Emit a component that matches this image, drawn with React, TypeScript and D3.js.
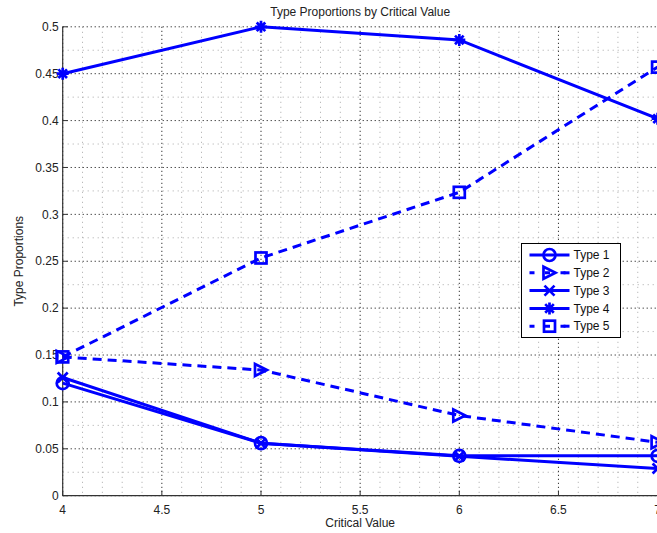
import React from "react";
import * as d3 from "d3";

const xValues = [4, 5, 6, 7];
const type1 = [0.12, 0.056, 0.0425, 0.0425];
const type2 = [0.148, 0.134, 0.0855, 0.057];
const type3 = [0.126, 0.056, 0.042, 0.029];
const type4 = [0.45, 0.5, 0.486, 0.402];
const type5 = [0.148, 0.2535, 0.3235, 0.457];
const seriesNames = ["Type 1", "Type 2", "Type 3", "Type 4", "Type 5"];
const xTicks = [4, 4.5, 5, 5.5, 6, 6.5, 7];
const yTicks = [0, 0.05, 0.1, 0.15, 0.2, 0.25, 0.3, 0.35, 0.4, 0.45, 0.5];

const W = 657, H = 533;
const L = 62.7, R = 657.6, T = 26.8, B = 495.7;
const BLUE = "#0000ff";
const FONT = "'Liberation Sans', Arial, Helvetica, sans-serif";

type Marker = "circle" | "triangle" | "x" | "star" | "square";
const series: { name: string; values: number[]; dashed: boolean; marker: Marker }[] = [
  { name: seriesNames[0], values: type1, dashed: false, marker: "circle" },
  { name: seriesNames[1], values: type2, dashed: true, marker: "triangle" },
  { name: seriesNames[2], values: type3, dashed: false, marker: "x" },
  { name: seriesNames[3], values: type4, dashed: false, marker: "star" },
  { name: seriesNames[4], values: type5, dashed: true, marker: "square" },
];

function MarkerShape({ kind, cx, cy }: { kind: Marker; cx: number; cy: number }) {
  const sw = 2.7;
  const common = { stroke: BLUE, strokeWidth: sw, fill: "none" };
  const s = 6;
  switch (kind) {
    case "circle":
      return <circle cx={cx} cy={cy} r={s} {...common} />;
    case "triangle":
      return (
        <path
          d={`M${cx - s},${cy - s}L${cx + s},${cy}L${cx - s},${cy + s}Z`}
          {...common}
          strokeLinejoin="miter"
        />
      );
    case "x":
      return (
        <path d={`M${cx - 5},${cy - 5}L${cx + 5},${cy + 5}M${cx - 5},${cy + 5}L${cx + 5},${cy - 5}`} {...common} />
      );
    case "star": {
      const a = 6, d = 4.3;
      return (
        <path
          d={`M${cx - a},${cy}L${cx + a},${cy}M${cx},${cy - a}L${cx},${cy + a}M${cx - d},${cy - d}L${cx + d},${cy + d}M${cx - d},${cy + d}L${cx + d},${cy - d}`}
          {...common}
        />
      );
    }
    case "square":
      return <rect x={cx - 5.5} y={cy - 5.5} width={11} height={11} {...common} />;
  }
}

export default function App() {
  const x = d3.scaleLinear().domain([4, 7]).range([L, R]);
  const y = d3.scaleLinear().domain([0, 0.5]).range([B, T]);
  const line = d3
    .line<[number, number]>()
    .x((d) => x(d[0]))
    .y((d) => y(d[1]));

  const xMinor = d3.range(4, 7.0001, 0.1).filter((v) => Math.abs(v * 2 - Math.round(v * 2)) > 1e-6);
  const yMinor = d3.range(0, 0.5001, 0.025).filter((v) => Math.abs(v * 20 - Math.round(v * 20)) > 1e-6);

  const legX = 521.5, legY = 243.5, legW = 99, legH = 94;
  const rowH = 17.8;

  return (
    <svg
      width={W}
      height={H}
      style={{ position: "absolute", left: 0, top: 0, background: "#fff" }}
      fontFamily={FONT}
    >
      <rect x={0} y={0} width={W} height={H} fill="#fff" />
      {/* minor grid */}
      {xMinor.map((v, i) => (
        <line key={"xm" + i} x1={x(v)} x2={x(v)} y1={T} y2={B} stroke="#a8a8a8" strokeWidth={1} strokeDasharray="1,4" />
      ))}
      {yMinor.map((v, i) => (
        <line key={"ym" + i} x1={L} x2={R} y1={y(v)} y2={y(v)} stroke="#a8a8a8" strokeWidth={1} strokeDasharray="1,4" />
      ))}
      {/* major grid */}
      {xTicks.map((v, i) => (
        <line key={"xg" + i} x1={x(v)} x2={x(v)} y1={T} y2={B} stroke="#000" strokeWidth={1} strokeDasharray="1,3" />
      ))}
      {yTicks.map((v, i) => (
        <line key={"yg" + i} x1={L} x2={R} y1={y(v)} y2={y(v)} stroke="#000" strokeWidth={1} strokeDasharray="1,3" />
      ))}
      {/* axes */}
      <line x1={L} x2={L} y1={T} y2={B} stroke="#333" strokeWidth={1.2} />
      <line x1={L} x2={R} y1={B} y2={B} stroke="#333" strokeWidth={1.2} />
      {yTicks.map((v, i) => (
        <g key={"yt" + i}>
          <line x1={L} x2={L + 5} y1={y(v)} y2={y(v)} stroke="#333" strokeWidth={1} />
          <text x={L - 4} y={y(v)} dy="0.35em" textAnchor="end" fontSize={12} fill="#222">
            {String(v)}
          </text>
        </g>
      ))}
      {xTicks.map((v, i) => (
        <g key={"xt" + i}>
          <line x1={x(v)} x2={x(v)} y1={B} y2={B - 5} stroke="#333" strokeWidth={1} />
          <text x={x(v)} y={B + 18} textAnchor="middle" fontSize={12} fill="#222">
            {String(v)}
          </text>
        </g>
      ))}
      {/* series */}
      {series.map((s) => {
        const pts = xValues.map((xv, i) => [xv, s.values[i]] as [number, number]);
        return (
          <g key={s.name}>
            <path
              d={line(pts) || ""}
              fill="none"
              stroke={BLUE}
              strokeWidth={3}
              strokeDasharray={s.dashed ? "9,6" : undefined}
            />
            {pts.map((p, i) => (
              <MarkerShape key={i} kind={s.marker} cx={x(p[0])} cy={y(p[1])} />
            ))}
          </g>
        );
      })}
      {/* title and labels */}
      <text x={(L + R) / 2} y={16} textAnchor="middle" fontSize={12} fill="#222">
        Type Proportions by Critical Value
      </text>
      <text x={(L + R) / 2} y={527} textAnchor="middle" fontSize={12} fill="#222">
        Critical Value
      </text>
      <text
        transform={`translate(23,${(T + B) / 2}) rotate(-90)`}
        textAnchor="middle"
        fontSize={12}
        fill="#222"
      >
        Type Proportions
      </text>
      {/* legend */}
      <rect x={legX} y={legY} width={legW} height={legH} fill="#fff" stroke="#000" strokeWidth={1} />
      {series.map((s, i) => {
        const cy = legY + 11.5 + i * rowH;
        return (
          <g key={"lg" + i}>
            <line
              x1={legX + 8}
              x2={legX + 48}
              y1={cy}
              y2={cy}
              stroke={BLUE}
              strokeWidth={3}
              strokeDasharray={s.dashed ? "5,10.5" : undefined}
            />
            {s.dashed ? (
              <line x1={legX + 42} x2={legX + 48} y1={cy} y2={cy} stroke={BLUE} strokeWidth={3} />
            ) : null}
            <MarkerShape kind={s.marker} cx={legX + 28} cy={cy} />
            <text x={legX + 52} y={cy} dy="0.35em" fontSize={12} fill="#111">
              {s.name}
            </text>
          </g>
        );
      })}
    </svg>
  );
}
